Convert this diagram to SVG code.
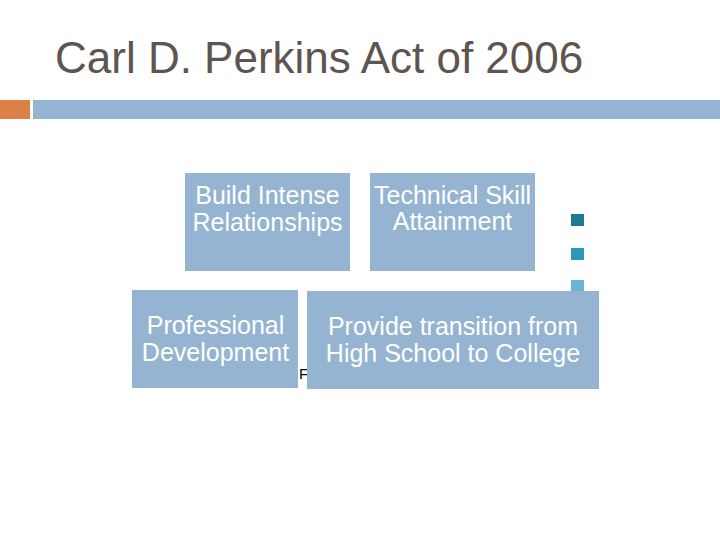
<svg xmlns="http://www.w3.org/2000/svg" width="720" height="540" viewBox="0 0 720 540">
  <style>
    .box { fill: #94b4d2; }
    .lbl { font-family: "Liberation Sans", Arial, sans-serif; font-size: 25px; fill: #ffffff; text-anchor: middle; }
    .title { font-family: "Liberation Sans", Arial, sans-serif; font-size: 44px; fill: #5e5450; }
  </style>
  <rect width="720" height="540" fill="#ffffff"/>
  <text class="title" x="55" y="73">Carl D. Perkins Act of 2006</text>
  <rect x="0" y="100" width="30" height="19" fill="#dd8047"/>
  <rect x="33" y="100" width="687" height="19" fill="#94b6d2"/>

  <g id="bullets">
    <rect x="571" y="214" width="13" height="12" fill="#1f7b93"/>
    <rect x="571" y="248" width="13" height="12" fill="#2a98b8"/>
    <rect x="571" y="280" width="13" height="12" fill="#6db3d3"/>
  </g>
  <text x="299" y="379" font-family="Liberation Sans, Arial, sans-serif" font-size="15" fill="#000000">F</text>

  <g id="connectors"></g>

  <g id="node-build">
    <rect class="box" x="185" y="173" width="165" height="98"/>
    <text class="lbl" x="267.5" y="204">Build Intense</text>
    <text class="lbl" x="267.5" y="231">Relationships</text>
  </g>
  <g id="node-technical">
    <rect class="box" x="370" y="173" width="165" height="98"/>
    <text class="lbl" x="452.5" y="204">Technical Skill</text>
    <text class="lbl" x="452.5" y="230">Attainment</text>
  </g>
  <g id="node-professional">
    <rect class="box" x="132" y="290" width="166" height="98"/>
    <text class="lbl" x="215.5" y="334">Professional</text>
    <text class="lbl" x="215.5" y="361">Development</text>
  </g>
  <g id="node-transition">
    <rect class="box" x="307" y="291" width="292" height="98"/>
    <text class="lbl" x="453" y="335">Provide transition from</text>
    <text class="lbl" x="453" y="362">High School to College</text>
  </g>
</svg>
